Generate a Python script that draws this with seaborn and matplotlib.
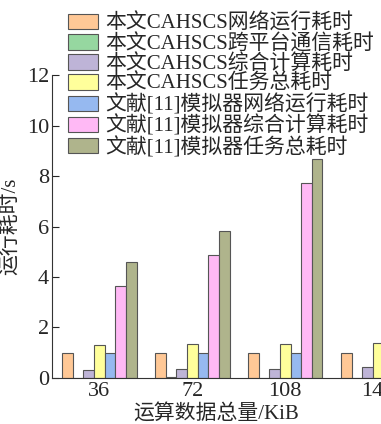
import pandas as pd
import seaborn as sns
import matplotlib.pyplot as plt
from matplotlib.patches import Patch

sns.set_theme(style="white")
plt.rcParams["font.family"] = ["Liberation Serif", "Noto Sans CJK SC"]

# --------------------------
# Data
# --------------------------
sizes = ["36", "72", "108", "144"]
series = [
    "本文CAHSCS网络运行耗时",
    "本文CAHSCS跨平台通信耗时",
    "本文CAHSCS综合计算耗时",
    "本文CAHSCS任务总耗时",
    "文献[11]模拟器网络运行耗时",
    "文献[11]模拟器综合计算耗时",
    "文献[11]模拟器任务总耗时",
]
net_ours = [0.99, 0.99, 0.99, 0.99]
comm_ours = [0.0, 0.05, 0.0, 0.0]
calc_ours = [0.32, 0.34, 0.36, 0.41]
total_ours = [1.32, 1.34, 1.36, 1.39]
net_ref = [0.99, 0.99, 0.99, 0.99]
calc_ref = [3.63, 4.86, 7.73, 10.3]
total_ref = [4.58, 5.83, 8.70, 11.3]
colors = ["#FFC896", "#96D7A0", "#BEB4D7", "#FFFF9B", "#96B9F0", "#FFB9F5", "#AFB48C"]

values = [net_ours, comm_ours, calc_ours, total_ours, net_ref, calc_ref, total_ref]
rows = []
for name, vals in zip(series, values):
    for s, v in zip(sizes, vals):
        rows.append({"size": s, "series": name, "time": v})
df = pd.DataFrame(rows)

# --------------------------
# Plot
# --------------------------
fig = plt.figure(figsize=(3.81, 4.24), dpi=100)
ax = fig.add_axes([52 / 381, 0.109, 1 - 52 / 381, 0.713])

sns.barplot(data=df, x="size", y="time", hue="series", hue_order=series,
            palette=colors, width=0.8, edgecolor="#555555", linewidth=0.8,
            saturation=1, legend=False, ax=ax)

ax.set_xlim(-0.51, 3.03)
ax.set_ylim(0, 12)
ax.set_yticks(range(0, 13, 2))
ax.set_xlabel("运算数据总量/KiB", fontsize=15, labelpad=2)
ax.set_ylabel("运行耗时/s", fontsize=15, labelpad=4)
ax.tick_params(axis="y", direction="in", length=5, width=0.8, labelsize=16, pad=2, left=True)
ax.tick_params(axis="x", length=0, labelsize=16, pad=3)
for side in ["top", "right"]:
    ax.spines[side].set_visible(False)
for side in ["left", "bottom"]:
    ax.spines[side].set_color("#333333")
    ax.spines[side].set_linewidth(0.8)

handles = [Patch(facecolor=c, edgecolor="#555555", linewidth=0.8) for c in colors]
fig.legend(handles, series, loc="upper left", bbox_to_anchor=(68 / 381, 0.967),
           frameon=False, fontsize=15, handlelength=1.45, handleheight=0.75,
           handletextpad=0.35, labelspacing=0.0, borderaxespad=0, borderpad=0)

fig.savefig("out.png", dpi=100)
